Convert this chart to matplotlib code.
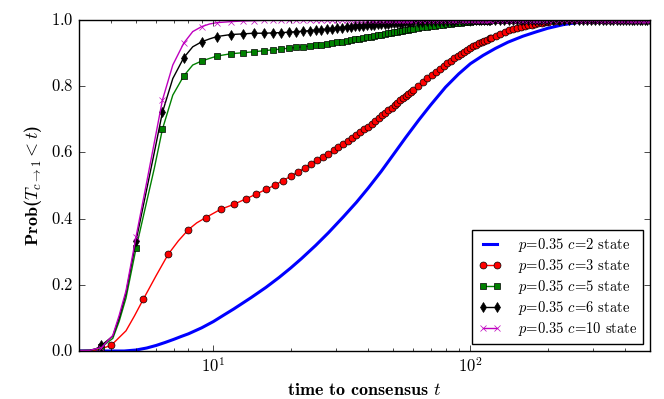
import numpy as np
import matplotlib
matplotlib.use('Agg')
import matplotlib.pyplot as plt

plt.style.use('classic')
plt.rcParams['font.family'] = 'serif'
plt.rcParams['font.serif'] = ['cmr10']
plt.rcParams['mathtext.fontset'] = 'cm'
plt.rcParams['axes.formatter.use_mathtext'] = True
plt.rcParams['axes.unicode_minus'] = False

# sample index along the run (every step early on, thinned where markers pile up)
k_index = np.concatenate([np.arange(1, 45), np.arange(45, 90, 2),
                          np.arange(90, 150, 4), np.arange(150, 376, 8)])
t_red = 4 * k_index / 3.0
t_rest = (4 * k_index - 1) / 3.0

# c=2 curve (line only)
t_blue = [3.0, 4.0, 4.5, 5.0, 5.5, 6.0, 6.5, 7.0, 7.5, 8.0, 9.0, 10, 11, 12, 14, 16, 18, 20,
          22, 25, 28, 32, 36, 40, 45, 50, 56, 63, 70, 80, 90, 100, 112, 125, 140, 160, 180,
          200, 230, 260, 300, 350, 400, 500]
p_blue = [0.0, 0.0, 0.0, 0.003, 0.009, 0.017, 0.026, 0.035, 0.044, 0.052, 0.070, 0.089,
          0.109, 0.127, 0.161, 0.192, 0.222, 0.251, 0.279, 0.319, 0.357, 0.405, 0.449,
          0.492, 0.543, 0.592, 0.645, 0.698, 0.743, 0.797, 0.837, 0.868, 0.893, 0.914,
          0.933, 0.951, 0.964, 0.975, 0.986, 0.992, 0.996, 0.999, 1.0, 1.0]

p_red = [0.0, 0.0, 0.017, 0.156, 0.292, 0.367, 0.403, 0.428, 0.443, 0.459, 0.474, 0.488,
         0.501, 0.515, 0.528, 0.541, 0.553, 0.565, 0.577, 0.587, 0.596, 0.606, 0.615,
         0.625, 0.634, 0.644, 0.653, 0.661, 0.670, 0.678, 0.686, 0.695, 0.704, 0.712,
         0.720, 0.728, 0.735, 0.743, 0.750, 0.757, 0.764, 0.770, 0.776, 0.782,
         # every 2nd
         0.788, 0.800, 0.812, 0.824, 0.834, 0.843, 0.852, 0.861, 0.869, 0.877, 0.884,
         0.891, 0.898, 0.904, 0.910, 0.916, 0.920, 0.925, 0.929, 0.933, 0.937, 0.941, 0.945,
         # every 4th
         0.946, 0.952, 0.958, 0.964, 0.969, 0.973, 0.976, 0.979, 0.981, 0.984, 0.986,
         0.988, 0.990, 0.991, 0.993,
         # every 8th
         0.994, 0.996, 0.998, 0.999] + [1.0] * 25

p_green = [0.0, 0.0, 0.012, 0.310, 0.670, 0.831, 0.876, 0.891, 0.898, 0.901, 0.904, 0.907,
           0.910, 0.912, 0.915, 0.917, 0.919, 0.921, 0.923, 0.925, 0.927, 0.930, 0.932,
           0.934, 0.937, 0.939, 0.942, 0.944, 0.946, 0.948, 0.950, 0.952, 0.954, 0.956,
           0.958, 0.960, 0.962, 0.963, 0.965, 0.966, 0.968, 0.969, 0.971, 0.972,
           0.974, 0.976, 0.978, 0.980, 0.982, 0.983, 0.985, 0.986, 0.988, 0.989, 0.990,
           0.991, 0.992, 0.993, 0.994, 0.995, 0.996, 0.996, 0.997, 0.997, 0.998, 0.998, 0.998,
           0.999, 0.999, 0.999] + [1.0] * 12 + [1.0] * 29

p_black = [0.0, 0.0, 0.017, 0.333, 0.721, 0.886, 0.934, 0.950, 0.956, 0.958, 0.960, 0.960,
           0.961, 0.962, 0.963, 0.965, 0.966, 0.968, 0.970, 0.971, 0.973, 0.974, 0.976,
           0.977, 0.979, 0.980, 0.981, 0.982, 0.983, 0.984, 0.985, 0.986, 0.987, 0.988,
           0.989, 0.989, 0.990, 0.991, 0.991, 0.992, 0.992, 0.993, 0.993, 0.994,
           0.994, 0.995, 0.995, 0.996, 0.996, 0.997, 0.997, 0.997, 0.998, 0.998, 0.998,
           0.999, 0.999, 0.999, 0.999] + [1.0] * 8 + [1.0] * 15 + [1.0] * 29

p_magenta = [0.0, 0.0, 0.010, 0.345, 0.758, 0.930, 0.980, 0.992, 0.995, 0.997, 0.998,
             0.999] + [1.0] * 32 + [1.0] * 23 + [1.0] * 15 + [1.0] * 29

# extra curve points between the markers (the lines are finer sampled than the markers)
t_red_extra = [3.3, 3.6, 4.57, 4.93, 5.98, 7.31, 8.61]
p_red_extra = [0.0, 0.005, 0.061, 0.106, 0.227, 0.333, 0.387]
t_rest_extra = [3.3, 3.5, 4.06, 4.3, 4.57, 5.47, 5.89, 6.95, 8.31, 9.67]
p_green_extra = [0.002, 0.006, 0.038, 0.090, 0.160, 0.443, 0.552, 0.773, 0.864, 0.884]
p_black_extra = [0.002, 0.007, 0.045, 0.100, 0.175, 0.479, 0.600, 0.823, 0.919, 0.943]
p_magenta_extra = [0.002, 0.007, 0.047, 0.108, 0.182, 0.500, 0.630, 0.864, 0.965, 0.988]

labels = ['$p$=0.35 $c$=2 state', '$p$=0.35 $c$=3 state', '$p$=0.35 $c$=5 state',
          '$p$=0.35 $c$=6 state', '$p$=0.35 $c$=10 state']


def merge(t_mark, p_mark, t_extra, p_extra):
    """Join marker samples and in-between line samples, return a marker mask too."""
    t = np.concatenate([t_mark, t_extra])
    p = np.concatenate([p_mark, p_extra])
    flag = np.concatenate([np.ones(len(t_mark), bool), np.zeros(len(t_extra), bool)])
    order = np.argsort(t)
    return t[order], p[order], list(flag[order])


fig = plt.figure(figsize=(6.64, 3.99), dpi=100, facecolor='white')
ax = fig.add_axes([0.119, 0.1203, 0.860, 0.8296])

ax.plot(t_blue, p_blue, 'b-', lw=2.2, label=labels[0])

t, p, m = merge(t_red, p_red, t_red_extra, p_red_extra)
ax.plot(t, p, 'r-', marker='o', ms=5, mec='k', mew=0.5, markevery=m, label=labels[1])
t, p, m = merge(t_rest, p_green, t_rest_extra, p_green_extra)
ax.plot(t, p, 'g-', marker='s', ms=4.5, mec='k', mew=0.5, markevery=m, label=labels[2])
t, p, m = merge(t_rest, p_black, t_rest_extra, p_black_extra)
ax.plot(t, p, 'k-', marker='d', ms=5.5, markevery=m, label=labels[3])
t, p, m = merge(t_rest, p_magenta, t_rest_extra, p_magenta_extra)
ax.plot(t, p, 'm-', marker='x', ms=4.5, mec='m', markevery=m, label=labels[4])

ax.set_xscale('log')
ax.set_xlim(3, 500)
ax.set_ylim(0, 1)
ax.set_yticks([0.0, 0.2, 0.4, 0.6, 0.8, 1.0])
ax.tick_params(labelsize=12)
ax.set_xlabel(r'time to consensus $t$', fontsize=13, fontfamily='cmb10')
ax.set_ylabel(r'Prob($T_{c\to 1} < t$)', fontsize=13, fontfamily='cmb10')

leg = ax.legend(loc='lower right', numpoints=2, fontsize=10.5, fancybox=False,
                handlelength=1.6, handletextpad=1.1, labelspacing=0.2, borderpad=0.4)
leg.get_frame().set_edgecolor('k')

fig.savefig('out.png', dpi=100, facecolor='white')
